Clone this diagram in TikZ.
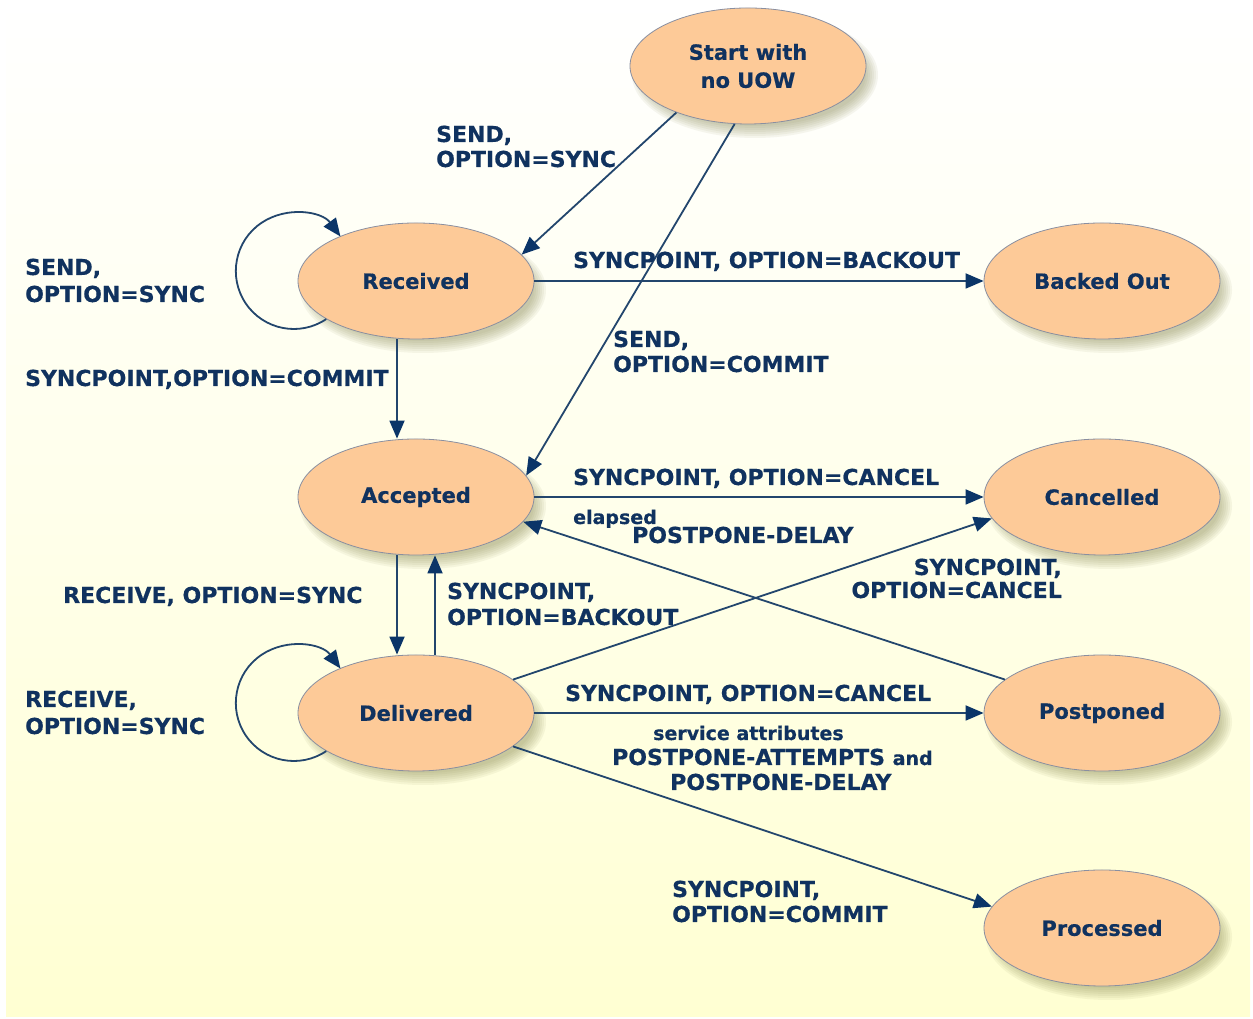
\documentclass[tikz,border=0pt]{standalone}
\usepackage{fontspec}
\setmainfont{DejaVu Sans}[BoldFeatures={FakeBold=0.5}]
\usetikzlibrary{arrows.meta,calc,shapes.geometric}
\definecolor{txt}{HTML}{10325F}
\definecolor{fillc}{HTML}{FDCA98}
\definecolor{edgec}{HTML}{8A8FA0}
\definecolor{linec}{HTML}{23466D}
\definecolor{tipc}{HTML}{0B3568}
\definecolor{bgy}{HTML}{FFFFD2}
\definecolor{shad}{HTML}{7A7A40}
\pgfdeclarelayer{bglayer}
\pgfdeclarelayer{shlayer}
\pgfsetlayers{bglayer,shlayer,main}
\begin{document}
\begin{tikzpicture}[x=1pt,y=1pt,
 state/.style={ellipse, draw=edgec, line width=0.8pt, fill=fillc, minimum width=236pt, minimum height=116pt, inner sep=0pt, text=txt, font=\fontsize{21}{28}\selectfont\bfseries, align=center},
 lbl/.style={anchor=base west, inner sep=0pt, text=txt, font=\fontsize{22}{26}\selectfont\bfseries},
 lblr/.style={lbl, anchor=base east},
 sml/.style={lbl, font=\fontsize{19}{22}\selectfont\bfseries},
 arr/.style={draw=linec, line width=1.8pt, -{Triangle[length=18pt,width=15pt,fill=tipc,color=tipc]}}]
\useasboundingbox (0,0) rectangle (1253,1019);
\begin{pgfonlayer}{bglayer}
\fill[white] (0,0) rectangle (1253,1019);
\shade[top color=white, bottom color=bgy, middle color=bgy!45] (6,2) rectangle (1250,1019);
\end{pgfonlayer}

% states
\node[state] (start) at (748,953) {Start with\\no UOW};
\node[state] (rec) at (416,738) {Received};
\node[state] (back) at (1102,738) {Backed Out};
\node[state] (acc) at (416,522) {Accepted};
\node[state] (canc) at (1102,522) {Cancelled};
\node[state] (del) at (416,306) {Delivered};
\node[state] (post) at (1102,306) {Postponed};
\node[state] (proc) at (1102,91) {Processed};

\begin{pgfonlayer}{shlayer}
\foreach \n in {start,rec,back,acc,canc,del,post,proc}{
  \foreach \k in {0,...,6}{
    \fill[shad, opacity=0.07] ($(\n.center)+(7,-9)$) ellipse[x radius={111+2*\k}, y radius={51+2*\k}];
  }
}
\end{pgfonlayer}

% connectors
\draw[arr] (start.213.5) -- (rec.14);
\draw[arr] (start.257.4) -- (acc.11.5);
\draw[arr] (rec.203) arc[start angle=-56, end angle=-323.5, radius=58];
\draw[arr] (rec.east) -- (back.west);
\draw[arr] ([xshift=-19pt]rec.south) -- ([xshift=-19pt]acc.north);
\draw[arr] (acc.east) -- (canc.west);
\draw[arr] (post.161.6) -- (acc.347);
\draw[arr] ([xshift=-19pt]acc.south) -- ([xshift=-19pt]del.north);
\draw[arr] ([xshift=19pt]del.north) -- ([xshift=19pt]acc.south);
\draw[arr] (del.19) -- (canc.191.6);
\draw[arr] (del.203) arc[start angle=-56, end angle=-323.5, radius=58];
\draw[arr] (del.east) -- (post.west);
\draw[arr] (del.341.6) -- (proc.169.4);

% labels
\node[lbl] (t1a) at (436,877) {SEND,};
\node[lbl] (t1b) at (436,852) {OPTION=SYNC};
\node[lbl] (t2a) at (25,744) {SEND,};
\node[lbl] (t2b) at (25,717) {OPTION=SYNC};
\node[lbl] (t3) at (573,751) {SYNCPOINT, OPTION=BACKOUT};
\node[lbl] (t4a) at (613,672) {SEND,};
\node[lbl] (t4b) at (613,647) {OPTION=COMMIT};
\node[lbl] (t5) at (25,633) {SYNCPOINT,OPTION=COMMIT};
\node[lbl] (t6) at (573,534) {SYNCPOINT, OPTION=CANCEL};
\node[sml] (t7) at (573,495) {elapsed};
\node[lbl] (t8) at (632,476) {POSTPONE-DELAY};
\node[lbl] (t9) at (63,416) {RECEIVE, OPTION=SYNC};
\node[lblr] (t10a) at (1062,444) {SYNCPOINT,};
\node[lblr] (t10b) at (1062,421) {OPTION=CANCEL};
\node[lbl] (t11a) at (447,420) {SYNCPOINT,};
\node[lbl] (t11b) at (447,394) {OPTION=BACKOUT};
\node[lbl] (t12a) at (25,312) {RECEIVE,};
\node[lbl] (t12b) at (25,285) {OPTION=SYNC};
\node[lbl] (t13) at (565,318) {SYNCPOINT, OPTION=CANCEL};
\node[sml] (t14) at (653,279) {service attributes};
\node[lbl] (t15) at (612,254) {POSTPONE-ATTEMPTS {\fontsize{19}{22}\selectfont and}};
\node[lbl] (t16) at (670,229) {POSTPONE-DELAY};
\node[lbl] (t17a) at (672,122) {SYNCPOINT,};
\node[lbl] (t17b) at (672,97) {OPTION=COMMIT};
\end{tikzpicture}
\end{document}
